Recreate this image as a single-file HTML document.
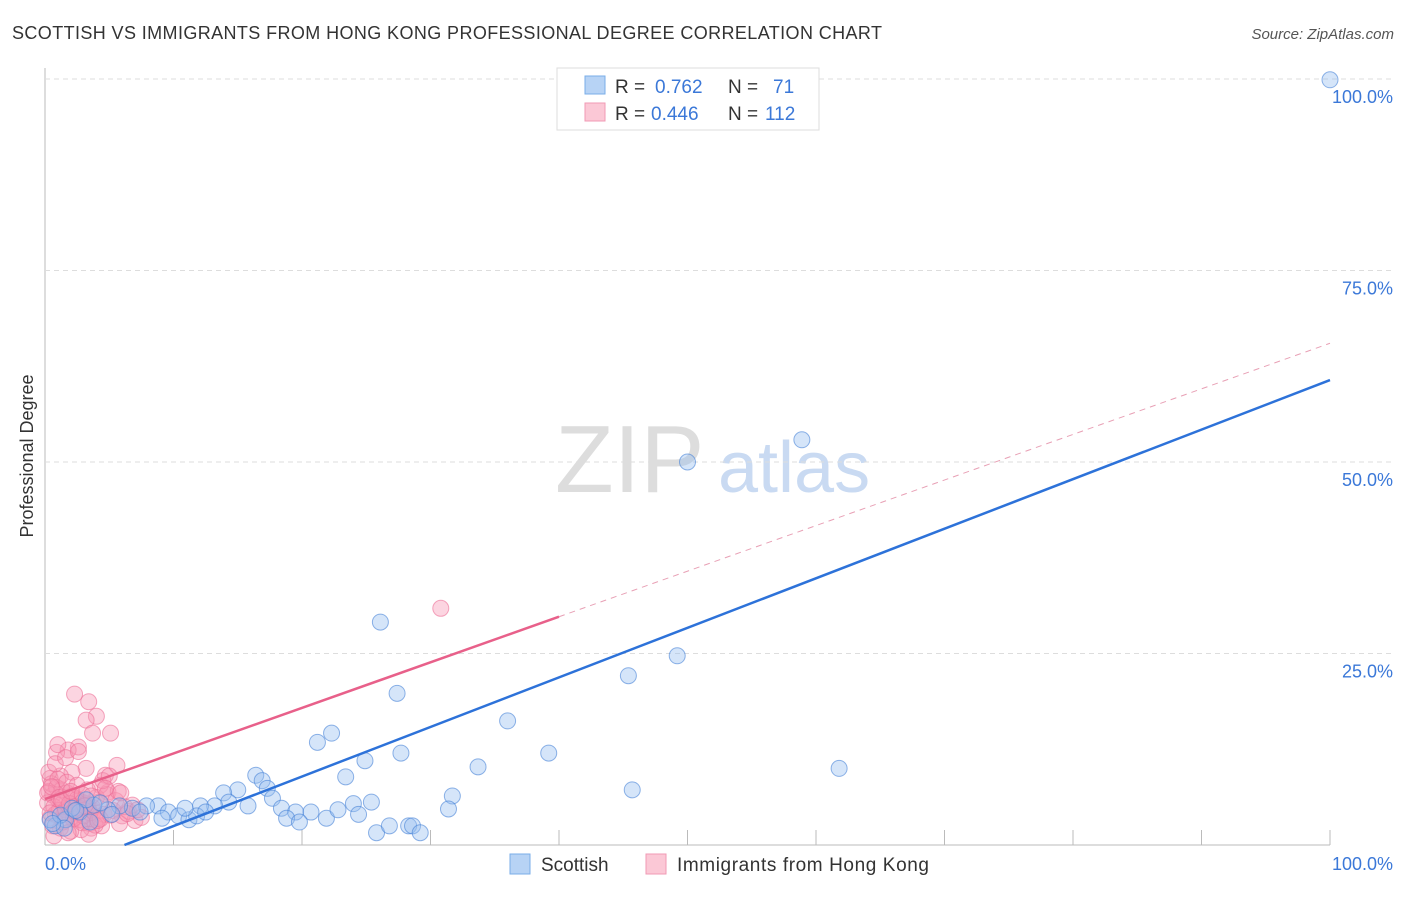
<!DOCTYPE html>
<html><head><meta charset="utf-8"><style>
body{margin:0;background:#fff;font-family:"Liberation Sans",sans-serif;}
svg text{font-family:"Liberation Sans",sans-serif;}
</style></head><body>
<svg id="chart" width="1406" height="892">
<text x="12" y="39" font-size="18" fill="#333" textLength="870">SCOTTISH VS IMMIGRANTS FROM HONG KONG PROFESSIONAL DEGREE CORRELATION CHART</text>
<text x="1394" y="39" font-size="15" fill="#555" font-style="italic" text-anchor="end">Source: ZipAtlas.com</text>
<text transform="translate(33,456) rotate(-90)" font-size="18" fill="#333" text-anchor="middle">Professional Degree</text>
<text x="555" y="492" font-size="96" fill="#ddd" font-family="Liberation Serif">ZIP</text>
<text x="718" y="492" font-size="72" fill="#c9daf2">atlas</text>
<g id="grid"></g><g id="marks"></g>
<g>
<rect x="557" y="68" width="262" height="62" fill="#fff" stroke="#ddd"/>
<rect x="585" y="76" width="20" height="18" fill="#b7d3f5" stroke="#7aaee8"/>
<rect x="585" y="103" width="20" height="18" fill="#fbc8d6" stroke="#f09ab4"/>
<text x="615" y="93" font-size="19" fill="#333">R =</text><text x="655" y="93" font-size="19" fill="#3b78d8">0.762</text>
<text x="728" y="93" font-size="19" fill="#333">N =</text><text x="773" y="93" font-size="19" fill="#3b78d8">71</text>
<text x="615" y="120" font-size="19" fill="#333">R =</text><text x="651" y="120" font-size="19" fill="#3b78d8">0.446</text>
<text x="728" y="120" font-size="19" fill="#333">N =</text><text x="765" y="120" font-size="19" fill="#3b78d8">112</text>
</g>
<g>
<rect x="510" y="854" width="20" height="20" fill="#b7d3f5" stroke="#7aaee8"/>
<text x="541" y="871" font-size="19" fill="#333">Scottish</text>
<rect x="646" y="854" width="20" height="20" fill="#fbc8d6" stroke="#f09ab4"/>
<text x="677" y="871" font-size="19" fill="#333" textLength="252">Immigrants from Hong Kong</text>
</g>
<text x="45" y="870" font-size="18" fill="#3b78d8">0.0%</text>
<text x="1393" y="870" font-size="18" fill="#3b78d8" text-anchor="end">100.0%</text>
</svg>
<script>
const yTicks=[25,50,75,100];
const yTickLabels=["25.0%","50.0%","75.0%","100.0%"];
const blueX=[100,58.9,50,26.1,49.2,45.4,27.4,36,21.2,22.3,39.2,27.7,61.8,33.7,24.9,23.4,45.7,31.7,16.4,16.9,15,17.3,13.9,17.7,15.8,14.3,13.2,12.1,18.4,19.5,20.7,18.8,19.8,21.9,22.8,24,25.4,24.4,25.8,26.8,28.3,28.6,29.2,31.4,8.8,7.9,6.8,5.8,9.6,10.4,11.2,11.8,4.9,3.8,2.7,1.6,0.8,0.4,1.2,2.1,3.2,4.3,5.2,7.4,9.1,10.9,12.5,3.5,1.5,0.6,2.4];
const blueY=[99.9,52.9,50,29.1,24.7,22.1,19.8,16.2,13.4,14.6,12,12,10,10.2,11,8.9,7.2,6.4,9.1,8.4,7.2,7.4,6.8,6.1,5.1,5.6,5.1,5.1,4.8,4.3,4.3,3.5,3,3.5,4.6,5.4,5.6,4,1.6,2.5,2.5,2.5,1.6,4.7,5.1,5.1,4.8,5.1,4.3,3.8,3.3,3.8,4.6,5.2,4.3,3.3,2.5,3.3,3.9,4.8,5.9,5.5,4,4.3,3.5,4.8,4.3,3,2.2,2.8,4.5];
const pinkX=[30.8,2.3,3.4,4,3.2,5.1,3.7,2.6,1.8,0.9,1,5.6,4.7,3.2,2.1,1.2,0.4,4.9,4.3,0.3,0.6,1,1.4,1.8,2.2,2.6,3,3.4,3.8,4.2,0.5,0.9,1.3,1.7,2.1,2.5,2.9,3.3,3.7,0.2,0.7,1.1,1.5,1.9,2.3,2.7,3.1,3.5,4.1,4.6,5.3,6,7,7.5,6.5,5.8,4.4,3.6,2.8,2,1.2,0.4,0.8,1.6,2.4,3.2,4,4.8,5.5,6.2,0.3,1,1.7,2.5,3.3,4.5,5,5.7,0.6,1.4,2.2,3,3.9,6.8,7.2,0.2,0.5,1.1,1.9,2.7,3.5,4.3,5.1,0.4,1.3,2.0,2.9,3.6,0.8,1.6,2.6,4.7,5.9,6.4,1.5,2.3,3.1,0.7,1.8,2.9,3.4,4.1];
const pinkY=[30.9,19.7,18.7,16.8,16.3,14.6,14.6,12.8,12.4,12.1,13.1,10.4,9.1,10,9.5,9,8.7,6.9,7.8,7,6.5,6,5.5,5,6.2,5.8,5.2,4.8,4.4,5.6,8,7.5,7.2,6.8,6.4,6,5.6,5.2,4.9,5.5,5,4.5,4.2,3.9,3.6,3.3,3,2.8,3.5,4,4.5,3.8,3.2,3.6,4.4,2.8,2.5,2.2,2,1.8,2.2,3.5,4,4.6,5,5.4,6.2,6.6,5.8,5,9.5,8.6,8.2,7.8,7.2,8.4,9,7,2.5,3,3.4,3.8,2.6,5.2,4.6,6.8,7.6,6.2,5.4,4.8,4.2,3.4,3.9,4.2,5.8,7,6.6,6.4,10.6,11.4,12.2,7.4,6.8,4.1,3.3,4.4,5.1,1.2,1.6,2.9,1.4,3.2];
const blueLine=[-4.0,0.647];
const pinkLine=[6.0,0.595];
const X=v=>45+v*12.85, Y=v=>845-v*7.66;
const NS="http://www.w3.org/2000/svg";
const g=document.getElementById('grid'), m=document.getElementById('marks');
function mk(p,tag,a){const e=document.createElementNS(NS,tag);for(const k in a)e.setAttribute(k,a[k]);p.appendChild(e);return e;}
let ax=mk(g,'line',{x1:45,y1:68,x2:45,y2:845,stroke:'#bbb'});


let bx=mk(g,'line',{x1:45,y1:845,x2:1330,y2:845,stroke:'#bbb'});


yTicks.forEach((t,i)=>{
 const l=mk(g,'line',{x1:45,y1:Y(t),x2:1395,y2:Y(t),stroke:'#ddd','stroke-dasharray':'5,4'});
 
 
 const tx=mk(g,'text',{x:1393,y:Y(t)+24,'font-size':18,fill:'#3b78d8','text-anchor':'end'});
 tx.textContent=yTickLabels[i];
 
 
});
for(let i=1;i<=10;i++){const l=mk(g,'line',{x1:X(i*10),y1:830,x2:X(i*10),y2:845,stroke:'#bbb'});
 
 }
pinkX.forEach((x,i)=>{const c=mk(m,'circle',{cx:X(x),cy:Y(pinkY[i]),r:8,fill:'rgba(247,150,180,0.4)',stroke:'rgba(236,110,150,0.6)'});
 
 });
blueX.forEach((x,i)=>{const c=mk(m,'circle',{cx:X(x),cy:Y(blueY[i]),r:8,fill:'rgba(150,190,240,0.4)',stroke:'rgba(70,130,215,0.6)'});
 
 });
const x0=-blueLine[0]/blueLine[1];
let bl=mk(m,'line',{x1:X(x0),y1:Y(0),x2:X(100),y2:Y(blueLine[0]+blueLine[1]*100),stroke:'#2d72d9','stroke-width':2.5});


let pl=mk(m,'line',{x1:X(0),y1:Y(pinkLine[0]),x2:X(40),y2:Y(pinkLine[0]+pinkLine[1]*40),stroke:'#e8608a','stroke-width':2.5});


let pd=mk(m,'line',{x1:X(40),y1:Y(pinkLine[0]+pinkLine[1]*40),x2:X(100),y2:Y(pinkLine[0]+pinkLine[1]*100),stroke:'#e8a0b5','stroke-width':1,'stroke-dasharray':'6,5'});


</script>
</body></html>
